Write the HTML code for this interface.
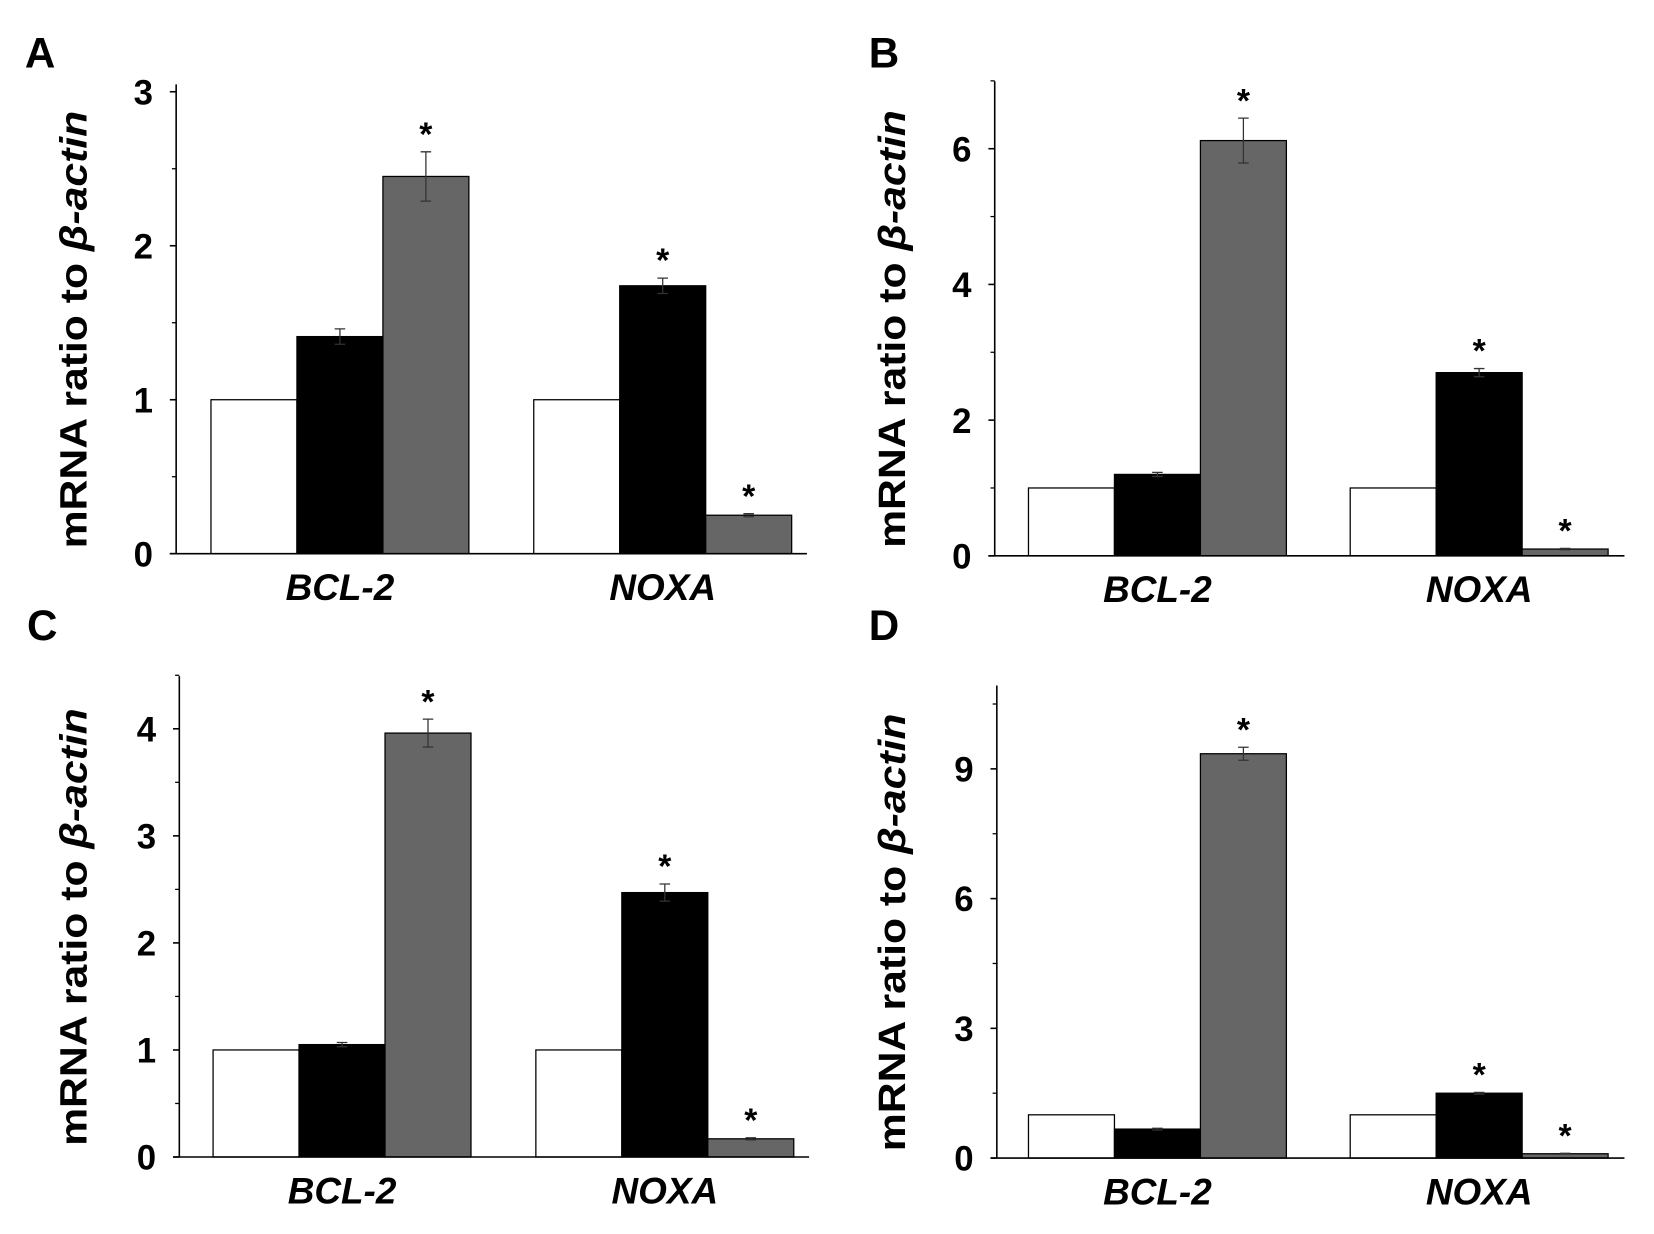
<!DOCTYPE html>
<html><head><meta charset="utf-8"><style>
html,body{margin:0;padding:0;background:#fff;}
svg{display:block;}
text{font-family:"Liberation Sans",Arial,sans-serif;font-weight:bold;fill:#000;}
</style></head><body>
<svg id="fig" width="1654" height="1234" viewBox="0 0 1568 1170" preserveAspectRatio="none" xmlns="http://www.w3.org/2000/svg"></svg>
<script>
const categories = ["BCL-2", "NOXA"];
const panelLetters = ["A", "B", "C", "D"];
const valuesA = [[1, 1.41, 2.45], [1, 1.74, 0.25]];
const errorsA = [[0, 0.05, 0.16], [0, 0.05, 0.01]];
const starsA = [[0, 0, 1], [0, 1, 1]];
const valuesB = [[1, 1.2, 6.12], [1, 2.7, 0.1]];
const errorsB = [[0, 0.03, 0.33], [0, 0.06, 0.01]];
const starsB = [[0, 0, 1], [0, 1, 1]];
const valuesC = [[1, 1.05, 3.96], [1, 2.47, 0.17]];
const errorsC = [[0, 0.02, 0.13], [0, 0.08, 0.01]];
const starsC = [[0, 0, 1], [0, 1, 1]];
const valuesD = [[1, 0.67, 9.35], [1, 1.5, 0.1]];
const errorsD = [[0, 0.02, 0.15], [0, 0.02, 0.01]];
const starsD = [[0, 0, 1], [0, 1, 1]];
const ticksA = [0, 1, 2, 3], minorA = [0.5, 1.5, 2.5];
const ticksB = [0, 2, 4, 6], minorB = [1, 3, 5, 7];
const ticksC = [0, 1, 2, 3, 4], minorC = [0.5, 1.5, 2.5, 3.5, 4.5];
const ticksD = [0, 3, 6, 9], minorD = [1.5, 4.5, 7.5, 10.5];

const NS = "http://www.w3.org/2000/svg";
const svg = document.getElementById("fig");
function mk(tag, attrs, parent) {
  const e = document.createElementNS(NS, tag);
  for (const k in attrs) e.setAttribute(k, attrs[k]);
  (parent || svg).appendChild(e);
  return e;
}
const fills = ["#ffffff", "#000000", "#666666"];
const layouts = [
  {ax: 167, y0: 525, ymaxV: 3, ytop: 87, axTop: 80, xEnd: 765, g: [200, 506], lx: 38, ly: 64, tx: 82},
  {ax: 943, y0: 527, ymaxV: 6, ytop: 141, axTop: 77, xEnd: 1540, g: [975, 1280], lx: 838, ly: 64, tx: 858},
  {ax: 170, y0: 1097, ymaxV: 4, ytop: 691, axTop: 641, xEnd: 767, g: [202, 508], lx: 40, ly: 607, tx: 82},
  {ax: 945, y0: 1098, ymaxV: 9, ytop: 729, axTop: 650, xEnd: 1540, g: [975, 1280], lx: 838, ly: 607, tx: 858}
];
const data = [
  [valuesA, errorsA, starsA, ticksA, minorA],
  [valuesB, errorsB, starsB, ticksB, minorB],
  [valuesC, errorsC, starsC, ticksC, minorC],
  [valuesD, errorsD, starsD, ticksD, minorD]
];
layouts.forEach((L, p) => {
  const [vals, errs, stars, ticks, minor] = data[p];
  const g = mk("g", {});
  
  
  const y = v => L.y0 - (L.y0 - L.ytop) * v / L.ymaxV;
  const bw = 81.5;
  const lt = mk("text", {x: L.lx, y: L.ly, "font-size": 40, "text-anchor": "middle"}, g);
  lt.textContent = panelLetters[p];
  
  
  categories.forEach((c, ci) => {
    vals[ci].forEach((v, si) => {
      const x = L.g[ci] + si * bw;
      const r = mk("rect", {x: x, y: y(v), width: bw, height: L.y0 - y(v), fill: fills[si], stroke: "#000", "stroke-width": 1.2}, g);
      
      
      const e = errs[ci][si];
      const cx = x + bw / 2;
      if (e > 0) {
        const eb = mk("path", {d: `M${cx},${y(v + e)}V${y(v - e)}M${cx - 5},${y(v + e)}H${cx + 5}M${cx - 5},${y(v - e)}H${cx + 5}`, stroke: "#333", "stroke-width": 1.2, fill: "none"}, g);
        
        
      }
      if (stars[ci][si]) {
        const st = mk("text", {x: cx, y: y(v + e) - 6, "font-size": 32, "text-anchor": "middle"}, g);
        st.textContent = "*";
        
        
      }
    });
    const cl = mk("text", {x: L.g[ci] + bw * 1.5, y: L.y0 + 44, "font-size": 35, "font-style": "italic", "text-anchor": "middle"}, g);
    cl.textContent = c;
    
    
  });
  const ya = mk("line", {x1: L.ax, y1: L.axTop, x2: L.ax, y2: L.y0, stroke: "#000", "stroke-width": 1.5}, g);
  
  
  const xa = mk("line", {x1: L.ax - 6, y1: L.y0, x2: L.xEnd, y2: L.y0, stroke: "#000", "stroke-width": 1.5}, g);
  
  
  ticks.forEach(t => {
    mk("line", {x1: L.ax - 6, y1: y(t), x2: L.ax, y2: y(t), stroke: "#000", "stroke-width": 1.5}, g);
    const tl = mk("text", {x: L.ax - 22, y: y(t) + 12, "font-size": 33, "text-anchor": "end"}, g);
    tl.textContent = t;
    
    
  });
  minor.forEach(t => {
    if (y(t) >= L.axTop - 1) mk("line", {x1: L.ax - 4, y1: y(t), x2: L.ax, y2: y(t), stroke: "#000", "stroke-width": 1.2}, g);
  });
  const ty = (L.y0 + L.axTop) / 2 + 10;
  const tt = mk("text", {x: L.tx, y: ty, "font-size": 36, "text-anchor": "middle", textLength: 415, lengthAdjust: "spacingAndGlyphs", transform: `rotate(-90 ${L.tx} ${ty})`}, g);
  tt.innerHTML = 'mRNA ratio to <tspan font-style="italic">β-actin</tspan>';
  
  
});
</script>
</body></html>
